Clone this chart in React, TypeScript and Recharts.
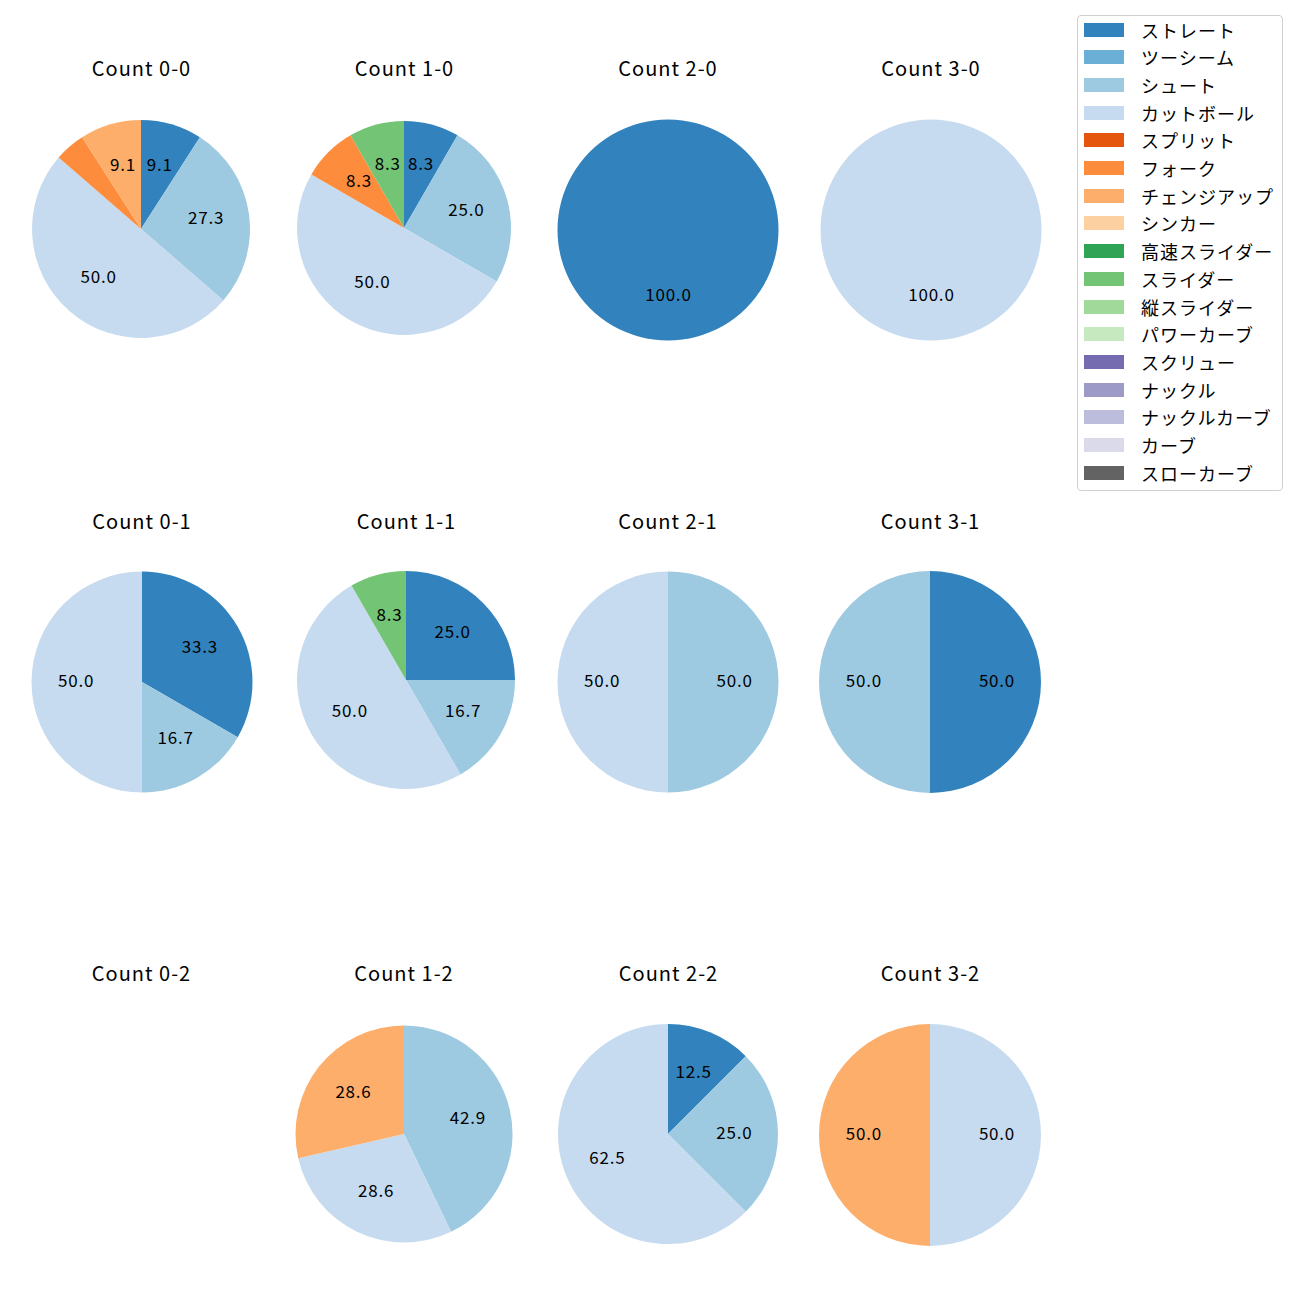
import React from 'react';
import { PieChart, Pie, Cell } from 'recharts';

// ---- data ----
const PITCHES = [
  'ストレート', 'ツーシーム', 'シュート', 'カットボール', 'スプリット', 'フォーク',
  'チェンジアップ', 'シンカー', '高速スライダー', 'スライダー', '縦スライダー',
  'パワーカーブ', 'スクリュー', 'ナックル', 'ナックルカーブ', 'カーブ', 'スローカーブ',
];
const COUNT_LABELS = ['0-0', '1-0', '2-0', '3-0', '0-1', '1-1', '2-1', '3-1', '0-2', '1-2', '2-2', '3-2'];
// pitch counts per ball-strike count (order follows PITCHES)
const count00 = [2, 0, 6, 11, 0, 1, 2, 0, 0, 0, 0, 0, 0, 0, 0, 0, 0];
const count10 = [1, 0, 3, 6, 0, 1, 0, 0, 0, 1, 0, 0, 0, 0, 0, 0, 0];
const count20 = [1, 0, 0, 0, 0, 0, 0, 0, 0, 0, 0, 0, 0, 0, 0, 0, 0];
const count30 = [0, 0, 0, 1, 0, 0, 0, 0, 0, 0, 0, 0, 0, 0, 0, 0, 0];
const count01 = [2, 0, 1, 3, 0, 0, 0, 0, 0, 0, 0, 0, 0, 0, 0, 0, 0];
const count11 = [3, 0, 2, 6, 0, 0, 0, 0, 0, 1, 0, 0, 0, 0, 0, 0, 0];
const count21 = [0, 0, 1, 1, 0, 0, 0, 0, 0, 0, 0, 0, 0, 0, 0, 0, 0];
const count31 = [1, 0, 1, 0, 0, 0, 0, 0, 0, 0, 0, 0, 0, 0, 0, 0, 0];
const count02 = [0, 0, 0, 0, 0, 0, 0, 0, 0, 0, 0, 0, 0, 0, 0, 0, 0];
const count12 = [0, 0, 3, 2, 0, 0, 2, 0, 0, 0, 0, 0, 0, 0, 0, 0, 0];
const count22 = [1, 0, 2, 5, 0, 0, 0, 0, 0, 0, 0, 0, 0, 0, 0, 0, 0];
const count32 = [0, 0, 0, 1, 0, 0, 1, 0, 0, 0, 0, 0, 0, 0, 0, 0, 0];
const COUNT_VALUES = [count00, count10, count20, count30, count01, count11, count21, count31, count02, count12, count22, count32];

// ---- styles ----
const COLORS = [
  '#3182bd', '#6baed6', '#9ecae1', '#c6dbef', '#e6550d', '#fd8d3c', '#fdae6b', '#fdd0a2',
  '#31a354', '#74c476', '#a1d99b', '#c7e9c0', '#756bb1', '#9e9ac8', '#bcbddc', '#dadaeb', '#636363',
];
const LAYOUT = [
  { cx: 141, cy: 228.5, r: 109 },
  { cx: 404, cy: 228, r: 107 },
  { cx: 667.5, cy: 229.5, r: 110.5 },
  { cx: 930.5, cy: 229.5, r: 110.5 },
  { cx: 141.5, cy: 682, r: 110.5 },
  { cx: 406, cy: 680, r: 109 },
  { cx: 667.5, cy: 682, r: 110.5 },
  { cx: 930, cy: 682, r: 111 },
  { cx: 141, cy: 1134, r: 110 },
  { cx: 403.5, cy: 1134, r: 108.5 },
  { cx: 668, cy: 1134, r: 110 },
  { cx: 930, cy: 1134.5, r: 111 },
];
const TITLE_Y = [68, 521, 973];
const FONT = '"Noto Sans CJK JP", "Noto Sans", sans-serif';
const RADIAN = Math.PI / 180;
const BOX = 260;

const renderLabel = (props: any) => {
  const { cx, cy, midAngle, outerRadius, percent } = props;
  const p = percent * 100;
  if (p < 5) return null;
  const rr = outerRadius * 0.6;
  const x = cx + rr * Math.cos(-midAngle * RADIAN);
  const y = cy + rr * Math.sin(-midAngle * RADIAN) - 3;
  return (
    <text x={x + 0.4} y={y} textAnchor="middle" dominantBaseline="central" fill="#000"
      style={{ fontFamily: FONT, fontSize: 17, letterSpacing: 0.8 }}>
      {p.toFixed(1)}
    </text>
  );
};

export default function App() {
  return (
    <div style={{ position: 'absolute', left: 0, top: 0, width: 1300, height: 1300, background: '#fff', fontFamily: FONT }}>
      {COUNT_LABELS.map((lab, i) => {
        const L = LAYOUT[i];
        const vals = COUNT_VALUES[i];
        const data = PITCHES.map((name, k) => ({ name, value: vals[k], color: COLORS[k] })).filter(d => d.value > 0);
        const row = Math.floor(i / 4);
        return (
          <React.Fragment key={lab}>
            <div style={{
              position: 'absolute', left: L.cx - 100 + 0.5, width: 200, top: TITLE_Y[row] - 12, height: 24,
              lineHeight: '24px', textAlign: 'center', fontSize: 20, letterSpacing: 1, color: '#000', whiteSpace: 'nowrap',
            }}>{`Count ${lab}`}</div>
            {data.length > 0 && (
              <div style={{ position: 'absolute', left: L.cx - BOX / 2, top: L.cy - BOX / 2 }}>
                <PieChart width={BOX} height={BOX} margin={{ top: 0, right: 0, bottom: 0, left: 0 }}>
                  <Pie data={data} dataKey="value" nameKey="name" cx={BOX / 2} cy={BOX / 2}
                    outerRadius={L.r} innerRadius={0} startAngle={90} endAngle={-270}
                    stroke="none" label={renderLabel} labelLine={false} isAnimationActive={false}>
                    {data.map((d) => <Cell key={d.name} fill={d.color} />)}
                  </Pie>
                </PieChart>
              </div>
            )}
          </React.Fragment>
        );
      })}
      <div style={{
        position: 'absolute', left: 1077, top: 15, width: 206, height: 476, boxSizing: 'border-box',
        border: '1px solid #d0d0d0', borderRadius: 4, background: '#fff',
      }}>
        {PITCHES.map((name, k) => (
          <div key={name} style={{ position: 'absolute', left: 0, top: 13.5 + 27.7 * k - 14, height: 28, width: 206 }}>
            <div style={{ position: 'absolute', left: 6, top: 7, width: 40, height: 14, background: COLORS[k] }} />
            <div style={{
              position: 'absolute', left: 63, top: 0, height: 28, lineHeight: '28px', fontSize: 18,
              letterSpacing: 1, color: '#000', whiteSpace: 'nowrap',
            }}>{name}</div>
          </div>
        ))}
      </div>
    </div>
  );
}
